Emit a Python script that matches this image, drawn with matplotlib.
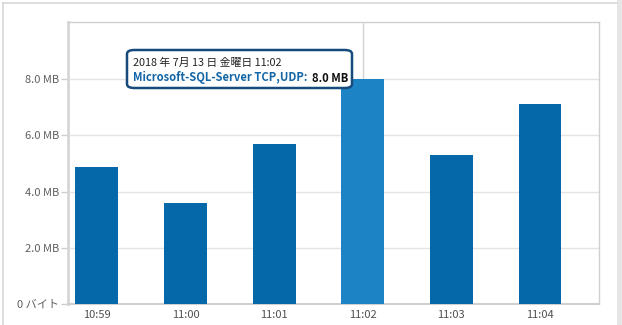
import matplotlib
matplotlib.use('Agg')
import matplotlib.pyplot as plt
from matplotlib.patches import FancyBboxPatch, Rectangle
from matplotlib.lines import Line2D

plt.rcParams['font.family'] = ['Noto Sans CJK JP', 'DejaVu Sans']

times = ['10:59', '11:00', '11:01', '11:02', '11:03', '11:04']
traffic_mb = [4.87, 3.59, 5.69, 8.0, 5.30, 7.12]
ytick_values = [0, 2, 4, 6, 8]
ytick_labels = ['0 バイト', '2.0 MB', '4.0 MB', '6.0 MB', '8.0 MB']
hover_idx = 3
hover_date = '2018 年 7月 13 日 金曜日'
series_name = 'Microsoft-SQL-Server TCP,UDP:'

W, H = 622, 325
fig = plt.figure(figsize=(W / 100, H / 100), dpi=100)
ax = fig.add_axes([68 / W, 1 - 304 / H, (599 - 68) / W, (304 - 22) / H])

colors = ['#1c84c4' if i == hover_idx else '#0569a9' for i in range(len(times))]
ax.set_xlim(-0.327, len(times) - 0.334)
ax.set_ylim(0, 10.03)

# crosshair behind the hovered bar
ax.vlines(hover_idx, 0, 10.03, color='#d4d4d4', lw=1, zorder=1)
ax.bar(range(len(times)), traffic_mb, width=0.485, color=colors, zorder=3)

ax.set_yticks(ytick_values)
ax.set_yticklabels(ytick_labels)
ax.set_xticks(range(len(times)))
ax.set_xticklabels(times)
ax.yaxis.grid(True, color='#e4e4e4', lw=1)
ax.set_axisbelow(True)
ax.tick_params(axis='y', length=5, width=1, color='#cccccc', labelsize=8,
               labelcolor='#606060', pad=1.5)
ax.tick_params(axis='x', length=0, labelsize=8, labelcolor='#505050', pad=4)

for side in ['top', 'right']:
    ax.spines[side].set_color('#d0d0d0')
    ax.spines[side].set_linewidth(1)
ax.spines['left'].set_color('#d6d6d6')
ax.spines['left'].set_linewidth(2)
ax.spines['bottom'].set_color('#d0d0d0')
ax.spines['bottom'].set_linewidth(1.5)

# page frame
fig.add_artist(Line2D([3 / W, 617 / W], [1 - 3 / H, 1 - 3 / H], color='#d8d8d8', lw=1.2))
fig.add_artist(Line2D([3 / W, 3 / W], [0, 1 - 3 / H], color='#d8d8d8', lw=1.2))
fig.add_artist(Rectangle((617 / W, 0), 5 / W, 1, color='#e6e6e6', lw=0))

# tooltip
box = FancyBboxPatch((127 / W, 1 - 88 / H), (352 - 127) / W, (88 - 50) / H,
                     boxstyle='round,pad=0,rounding_size=0.012', transform=fig.transFigure,
                     facecolor='white', edgecolor='#174a7c', lw=1.8, zorder=10)
fig.add_artist(box)
fig.text(133 / W, 1 - 63 / H, '{0:s} {1:s}'.format(hover_date, times[hover_idx]),
         fontsize=7.8, color='#222222', va='center', ha='left', zorder=11)
t1 = fig.text(133 / W, 1 - 78 / H, series_name, fontsize=8.1, fontweight='bold',
              color='#1466a6', va='center', ha='left', zorder=11)
fig.canvas.draw()
ext = t1.get_window_extent(fig.canvas.get_renderer())
fig.text((ext.x1 + 5) / W, 1 - 78 / H, '{0:.1f} MB'.format(traffic_mb[hover_idx]),
         fontsize=8.1, fontweight='bold', color='#111111', va='center', ha='left', zorder=11)

fig.savefig('out.png', dpi=100)
